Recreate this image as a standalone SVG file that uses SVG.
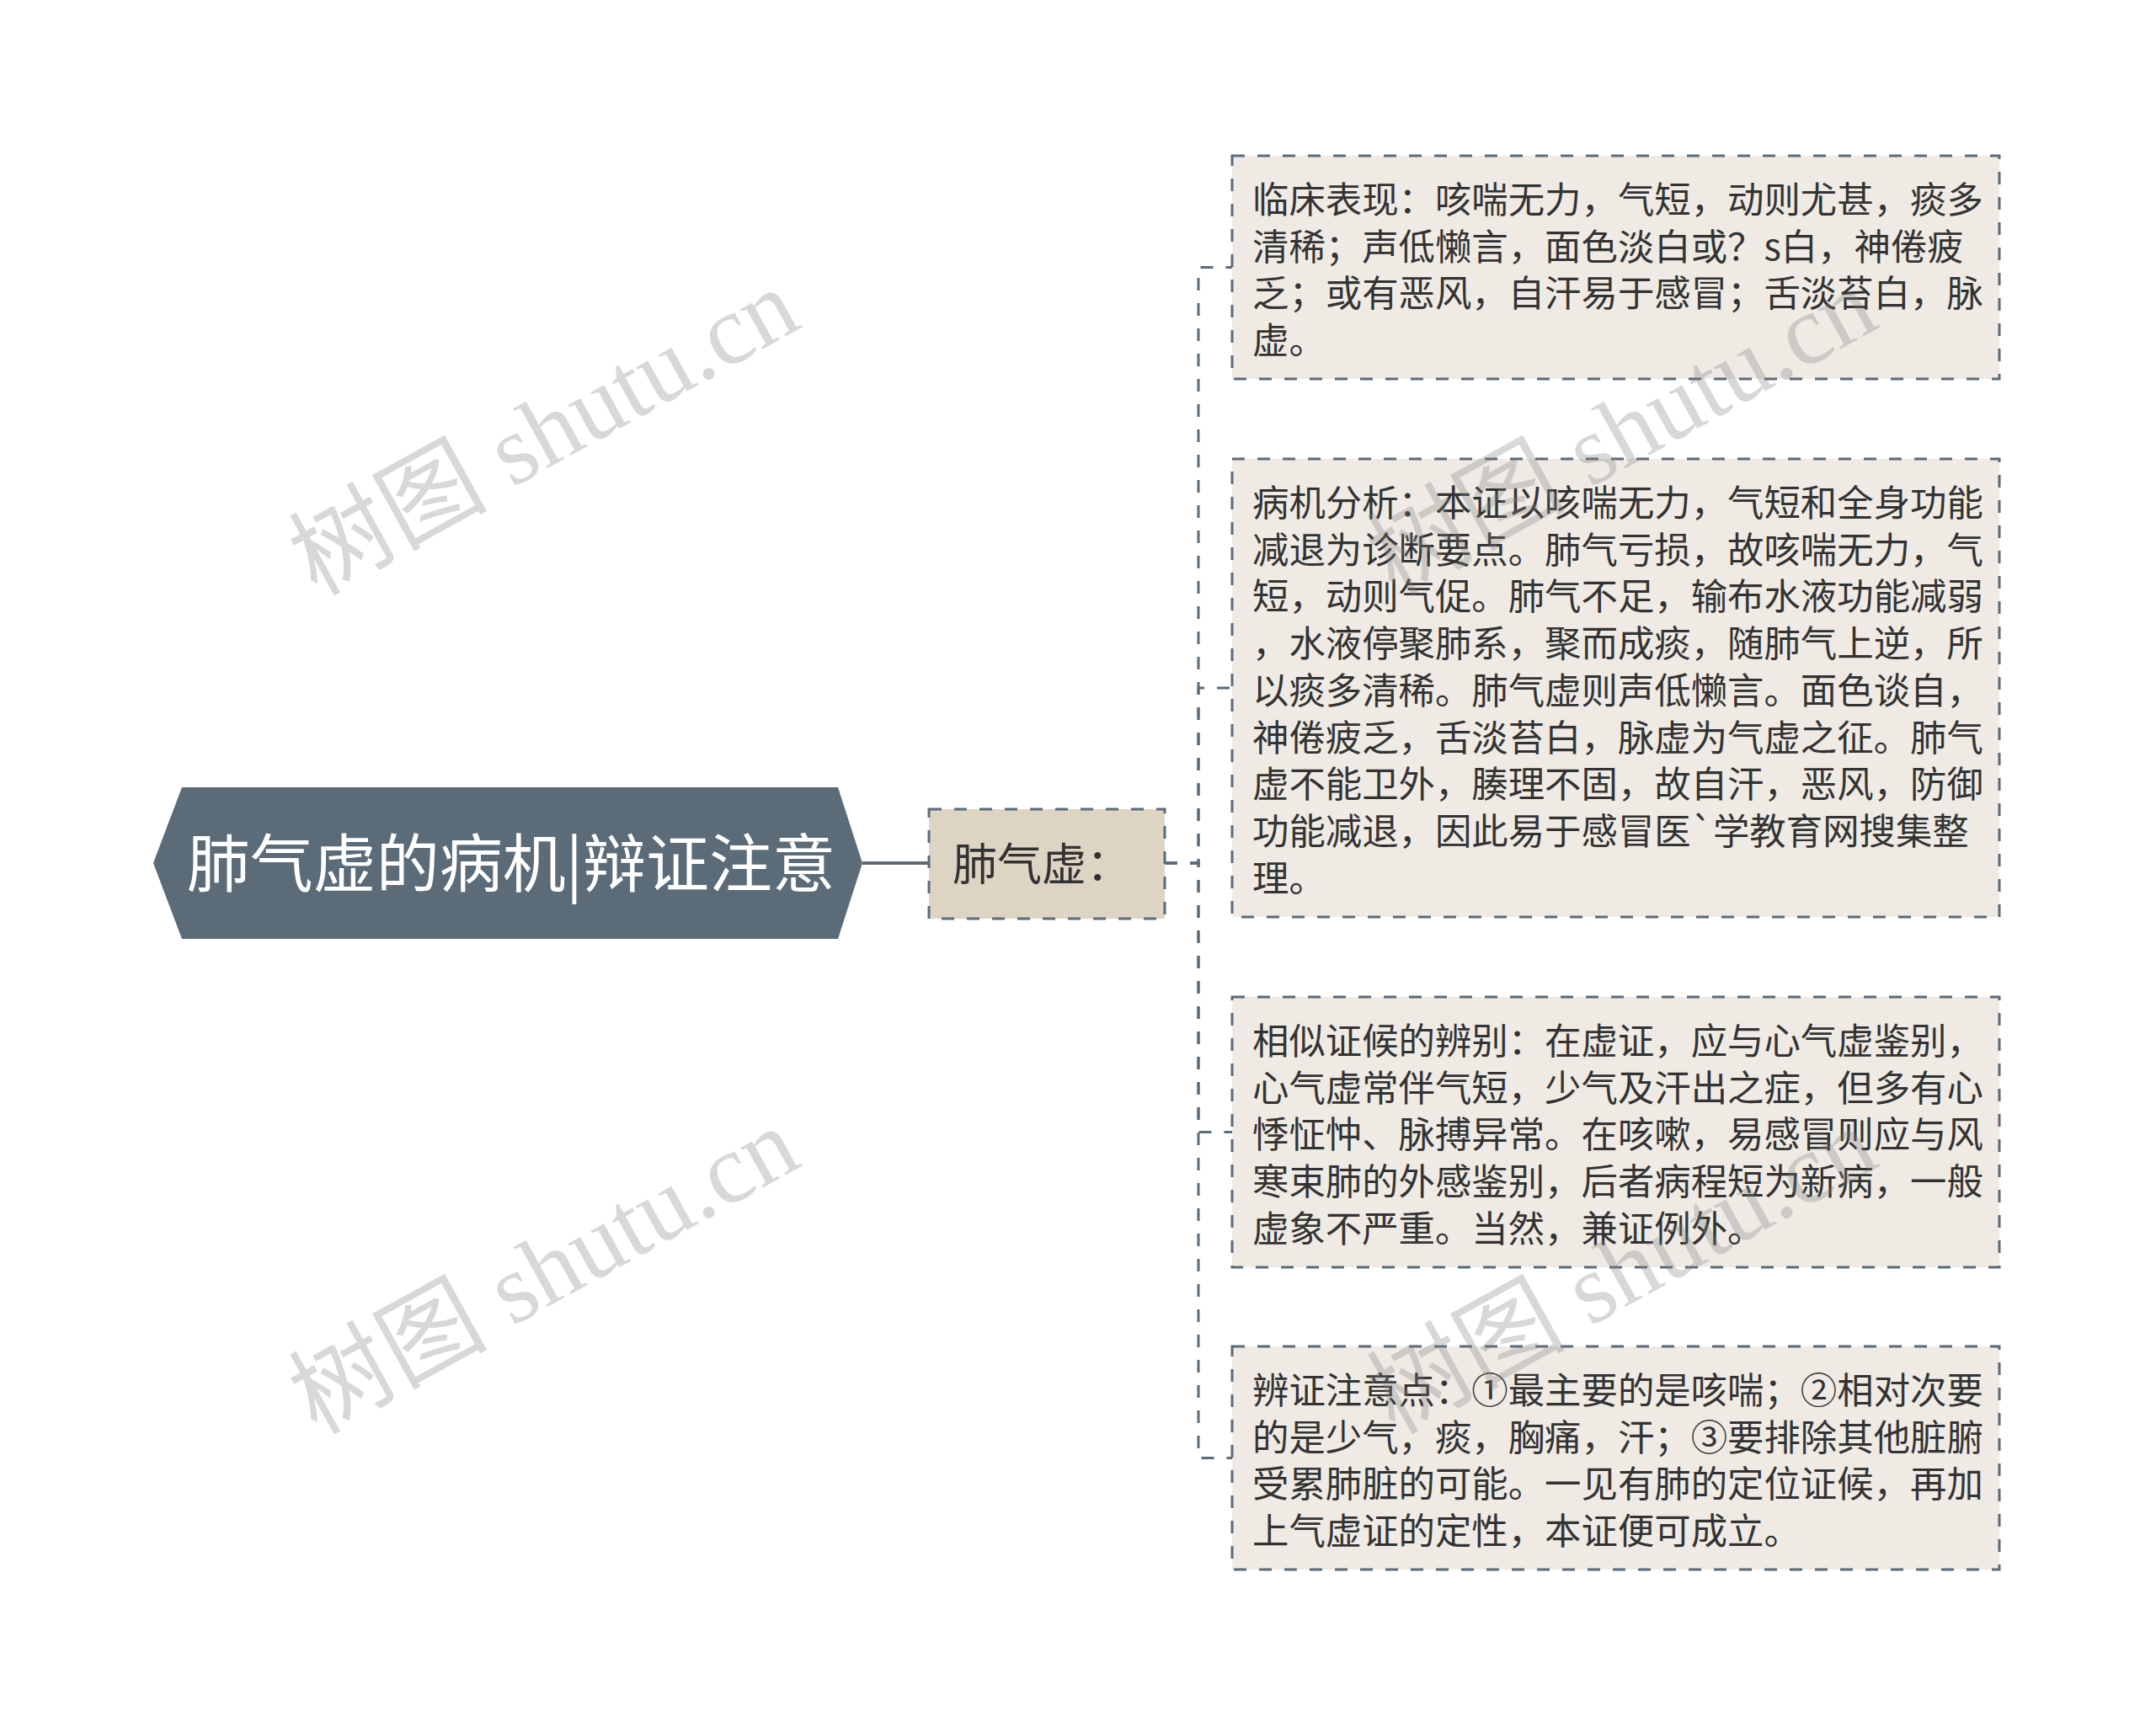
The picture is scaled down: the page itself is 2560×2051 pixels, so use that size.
<svg xmlns="http://www.w3.org/2000/svg" width="2560" height="2051" viewBox="0 0 2560 2051">
<style>
.bg{fill:#ffffff}
.root{fill:#5b6b78}
.roottxt{fill:#ffffff;font-family:"Noto Sans CJK SC","Noto Sans",sans-serif;font-size:75px}
.sub{fill:#ddd4c4;stroke:#5b6b78;stroke-width:3;stroke-dasharray:15 15}
.subtxt{fill:#333333;font-family:"Noto Sans CJK SC","Noto Sans",sans-serif;font-size:53px}
.leaf{fill:#efebe4;stroke:#5b6b78;stroke-width:3;stroke-dasharray:15 15}
.lt{fill:#333333;font-family:"Noto Sans CJK SC","Noto Sans",sans-serif;font-size:43.4px}
.conn{fill:none;stroke:#5b6b78;stroke-width:3;stroke-dasharray:15 15}
.solid{fill:none;stroke:#5b6b78;stroke-width:4}
.wm{fill:#808080;opacity:0.3;font-family:"Liberation Serif","Noto Sans CJK SC",serif;font-size:118px}
</style>
<rect class="bg" x="0" y="0" width="2560" height="2051"/>
<g id="connectors">
<path class="solid" d="M1024,1025 H1103"/>
<path class="conn" d="M1383,1025 H1423 V317.5 H1463"/>
<path class="conn" d="M1383,1025 H1423 V817 H1463"/>
<path class="conn" d="M1383,1025 H1423 V1344.5 H1463"/>
<path class="conn" d="M1383,1025 H1423 V1731.5 H1463"/>
</g>
<g id="root">
<polygon class="root" points="182,1025 216,935 995,935 1024,1025 995,1115 216,1115"/>
<text class="roottxt" x="607" y="1053" text-anchor="middle">肺气虚的病机|辩证注意</text>
</g>
<g id="node-feiqixu">
<rect class="sub" x="1103" y="961" width="280" height="130"/>
<text class="subtxt" x="1131" y="1046">肺气虚：</text>
</g>
<g id="leaf1">
<rect class="leaf" x="1463" y="185" width="911" height="265"/>
<text class="lt" x="1487" y="253">临床表现：咳喘无力，气短，动则尤甚，痰多</text>
<text class="lt" x="1487" y="308.7">清稀；声低懒言，面色淡白或？s白，神倦疲</text>
<text class="lt" x="1487" y="364.4">乏；或有恶风，自汗易于感冒；舌淡苔白，脉</text>
<text class="lt" x="1487" y="420.1">虚。</text>
</g>
<g id="leaf2">
<rect class="leaf" x="1463" y="545" width="911" height="544"/>
<text class="lt" x="1487" y="613">病机分析：本证以咳喘无力，气短和全身功能</text>
<text class="lt" x="1487" y="668.7">减退为诊断要点。肺气亏损，故咳喘无力，气</text>
<text class="lt" x="1487" y="724.4">短，动则气促。肺气不足，输布水液功能减弱</text>
<text class="lt" x="1487" y="780.1">，水液停聚肺系，聚而成痰，随肺气上逆，所</text>
<text class="lt" x="1487" y="835.8">以痰多清稀。肺气虚则声低懒言。面色谈自，</text>
<text class="lt" x="1487" y="891.5">神倦疲乏，舌淡苔白，脉虚为气虚之征。肺气</text>
<text class="lt" x="1487" y="947.2">虚不能卫外，腠理不固，故自汗，恶风，防御</text>
<text class="lt" x="1487" y="1002.9">功能减退，因此易于感冒医`学教育网搜集整</text>
<text class="lt" x="1487" y="1058.6">理。</text>
</g>
<g id="leaf3">
<rect class="leaf" x="1463" y="1184" width="911" height="321"/>
<text class="lt" x="1487" y="1252">相似证候的辨别：在虚证，应与心气虚鉴别，</text>
<text class="lt" x="1487" y="1307.7">心气虚常伴气短，少气及汗出之症，但多有心</text>
<text class="lt" x="1487" y="1363.4">悸怔忡、脉搏异常。在咳嗽，易感冒则应与风</text>
<text class="lt" x="1487" y="1419.1">寒束肺的外感鉴别，后者病程短为新病，一般</text>
<text class="lt" x="1487" y="1474.8">虚象不严重。当然，兼证例外。</text>
</g>
<g id="leaf4">
<rect class="leaf" x="1463" y="1599" width="911" height="265"/>
<text class="lt" x="1487" y="1667">辨证注意点：①最主要的是咳喘；②相对次要</text>
<text class="lt" x="1487" y="1722.7">的是少气，痰，胸痛，汗；③要排除其他脏腑</text>
<text class="lt" x="1487" y="1778.4">受累肺脏的可能。一见有肺的定位证候，再加</text>
<text class="lt" x="1487" y="1834.1">上气虚证的定性，本证便可成立。</text>
</g>
<g id="watermarks">
<text class="wm" text-anchor="middle" transform="translate(665,548) rotate(-29)">树图 shutu.cn</text>
<text class="wm" text-anchor="middle" transform="translate(665,1544) rotate(-29)">树图 shutu.cn</text>
<text class="wm" text-anchor="middle" transform="translate(1945,548) rotate(-29)">树图 shutu.cn</text>
<text class="wm" text-anchor="middle" transform="translate(1945,1544) rotate(-29)">树图 shutu.cn</text>
</g>
</svg>
